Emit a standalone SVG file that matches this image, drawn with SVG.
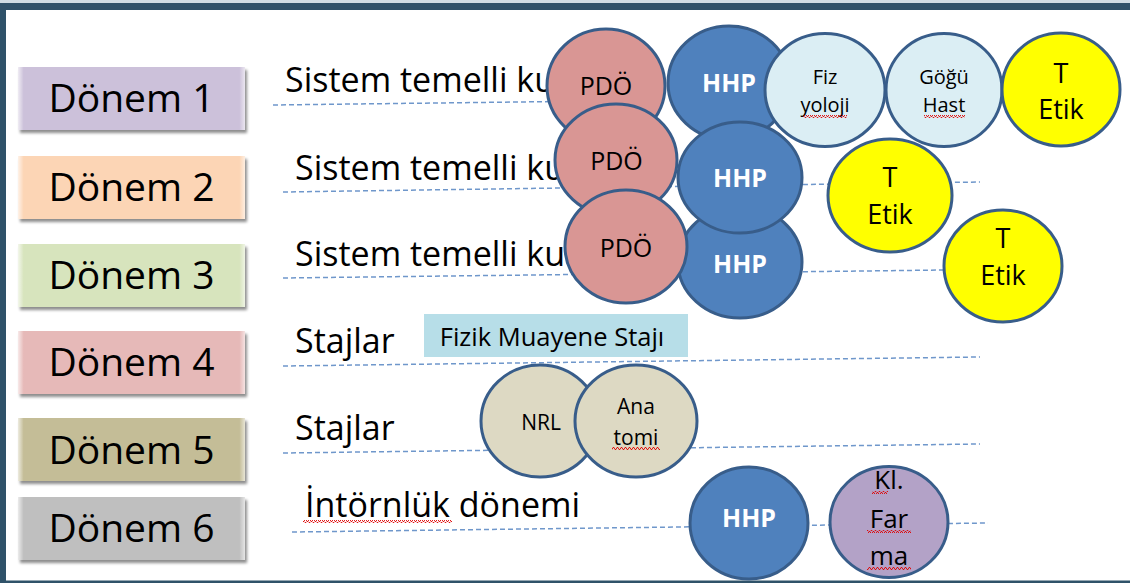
<svg xmlns="http://www.w3.org/2000/svg" width="1130" height="583" viewBox="0 0 1130 583">
<defs>
<filter id="sh" x="-5%" y="-10%" width="115%" height="130%">
<feGaussianBlur in="SourceAlpha" stdDeviation="1.5"/>
<feOffset dx="2" dy="2.5" result="b"/>
<feComponentTransfer><feFuncA type="linear" slope="0.45"/></feComponentTransfer>
<feMerge><feMergeNode/><feMergeNode in="SourceGraphic"/></feMerge>
</filter>
<linearGradient id="bev" x1="0" y1="0" x2="1" y2="0">
<stop offset="0" stop-color="#fff" stop-opacity="0.7"/>
<stop offset="0.025" stop-color="#fff" stop-opacity="0"/>
<stop offset="0.975" stop-color="#fff" stop-opacity="0"/>
<stop offset="1" stop-color="#fff" stop-opacity="0.6"/>
</linearGradient>
<pattern id="wavy" width="4" height="3" patternUnits="userSpaceOnUse">
<path d="M0 2.5 L1 0.5 L2 0.5 L3 2.5 L4 2.5" stroke="#e00000" stroke-width="0.9" fill="none"/>
</pattern>
<style>
.box text{font-family:"Open Sans","Liberation Sans",sans-serif;font-size:39px;fill:#000;text-anchor:middle}
.lbl{font-family:"Open Sans","Liberation Sans",sans-serif;font-size:34px;fill:#000}
.c{stroke:#385D8A;stroke-width:3}
.ct{font-family:"Open Sans","Liberation Sans",sans-serif;fill:#000;text-anchor:middle}
.hhp{font-family:"Open Sans","Liberation Sans",sans-serif;font-weight:bold;font-size:25px;fill:#fff;text-anchor:middle}
.pdo{fill:#D99694}.blue{fill:#4F81BD}.lb{fill:#DBEEF4}.yel{fill:#FFFF00}.tan{fill:#DDD9C3}.pur{fill:#B3A2C7}
.dash{stroke:#6F97CB;stroke-width:1.5;stroke-dasharray:5 3;fill:none}
</style>
</defs>
<rect width="1130" height="583" fill="#fff"/>
<!-- frame -->
<rect x="0" y="0" width="1130" height="3" fill="#D0DDE4"/>
<rect x="0" y="3" width="1130" height="7" fill="#2F5269"/>
<rect x="0" y="3" width="6" height="580" fill="#2F5269"/>
<rect x="0" y="580.5" width="1130" height="2.5" fill="#2F5269"/>

<!-- period boxes -->
<g id="donem1" class="box"><rect x="18" y="67" width="227" height="63" fill="#CCC1DA" filter="url(#sh)"/><rect x="18" y="67" width="227" height="63" fill="url(#bev)"/><text x="131.5" y="112">Dönem 1</text></g>
<g id="donem2" class="box"><rect x="18" y="156" width="227" height="63" fill="#FCD5B5" filter="url(#sh)"/><rect x="18" y="156" width="227" height="63" fill="url(#bev)"/><text x="131.5" y="201">Dönem 2</text></g>
<g id="donem3" class="box"><rect x="18" y="244" width="227" height="63" fill="#D7E4BD" filter="url(#sh)"/><rect x="18" y="244" width="227" height="63" fill="url(#bev)"/><text x="131.5" y="289">Dönem 3</text></g>
<g id="donem4" class="box"><rect x="18" y="331" width="227" height="63" fill="#E6B9B8" filter="url(#sh)"/><rect x="18" y="331" width="227" height="63" fill="url(#bev)"/><text x="131.5" y="376">Dönem 4</text></g>
<g id="donem5" class="box"><rect x="18" y="418" width="227" height="63" fill="#C4BD97" filter="url(#sh)"/><rect x="18" y="418" width="227" height="63" fill="url(#bev)"/><text x="131.5" y="464">Dönem 5</text></g>
<g id="donem6" class="box"><rect x="18" y="497" width="227" height="63" fill="#BFBFBF" filter="url(#sh)"/><rect x="18" y="497" width="227" height="63" fill="url(#bev)"/><text x="131.5" y="542">Dönem 6</text></g>

<!-- connectors: dashed row lines -->
<g id="connectors">
<line class="dash" x1="273" y1="105" x2="600" y2="101"/>
<line class="dash" x1="283" y1="192" x2="980" y2="182"/>
<line class="dash" x1="283" y1="278" x2="945" y2="270"/>
<line class="dash" x1="283" y1="366" x2="980" y2="357"/>
<line class="dash" x1="283" y1="453" x2="980" y2="444"/>
<line class="dash" x1="292" y1="532" x2="988" y2="523"/>
</g>

<!-- row labels -->
<g id="row-labels">
<text class="lbl" x="285" y="92">Sistem temelli ku</text>
<text class="lbl" x="295" y="180">Sistem temelli ku</text>
<text class="lbl" x="295" y="266">Sistem temelli ku</text>
<text class="lbl" x="295" y="353">Stajlar</text>
<text class="lbl" x="295" y="440">Stajlar</text>
<text class="lbl" x="305" y="517">İntörnlük dönemi</text>
<rect x="303" y="520" width="149" height="3" fill="url(#wavy)"/>
</g>

<!-- row 1 -->
<g id="pdo1"><ellipse class="c pdo" cx="606" cy="86" rx="59" ry="57"/><text class="ct" x="606" y="95" font-size="25">PDÖ</text></g>
<g id="hhp1"><ellipse class="c blue" cx="729" cy="83" rx="61" ry="57"/><text class="hhp" x="729" y="92">HHP</text></g>
<g id="fizyoloji"><ellipse class="c lb" cx="825" cy="90" rx="60" ry="56.5"/><text class="ct" x="825" y="84" font-size="20">Fiz</text><text class="ct" x="825" y="112" font-size="20">yoloji</text><rect x="803" y="115" width="44" height="3" fill="url(#wavy)"/></g>
<g id="gogu"><ellipse class="c lb" cx="944" cy="90" rx="58" ry="56.5"/><text class="ct" x="944" y="84" font-size="20">Göğü</text><text class="ct" x="944" y="112" font-size="20">Hast</text><rect x="924" y="115" width="41" height="3" fill="url(#wavy)"/></g>
<g id="etik1"><ellipse class="c yel" cx="1061" cy="89.5" rx="59" ry="56.5"/><text class="ct" x="1061" y="83" font-size="27">T</text><text class="ct" x="1061" y="119" font-size="27">Etik</text></g>

<!-- row 3 HHP (below row 2 HHP) -->
<g id="hhp3"><ellipse class="c blue" cx="740" cy="262" rx="62" ry="56"/><text class="hhp" x="740" y="273">HHP</text></g>
<!-- row 2 -->
<g id="pdo2"><ellipse class="c pdo" cx="616" cy="160" rx="61" ry="56"/><text class="ct" x="616.5" y="170" font-size="25">PDÖ</text></g>
<g id="hhp2"><ellipse class="c blue" cx="740" cy="177.5" rx="62" ry="55.5"/><text class="hhp" x="740" y="187">HHP</text></g>
<g id="etik2"><ellipse class="c yel" cx="890" cy="195.5" rx="62" ry="56.5"/><text class="ct" x="890" y="187" font-size="27">T</text><text class="ct" x="890" y="224" font-size="27">Etik</text></g>
<!-- row 3 -->
<g id="pdo3"><ellipse class="c pdo" cx="626" cy="246.5" rx="61" ry="56.5"/><text class="ct" x="626" y="256.5" font-size="25">PDÖ</text></g>
<g id="etik3"><ellipse class="c yel" cx="1003" cy="266" rx="59" ry="56"/><text class="ct" x="1003" y="248" font-size="27">T</text><text class="ct" x="1003" y="285" font-size="27">Etik</text></g>

<!-- row 4 -->
<g id="fizik-muayene"><rect x="424" y="314" width="264" height="43" fill="#B7DEE8"/><text class="ct" x="552" y="346" font-size="25.5">Fizik Muayene Stajı</text></g>

<!-- row 5 -->
<g id="nrl"><ellipse class="c tan" cx="540" cy="421" rx="59" ry="56"/><text class="ct" x="541" y="430" font-size="21">NRL</text></g>
<g id="anatomi"><ellipse class="c tan" cx="636" cy="421" rx="61" ry="56"/><text class="ct" x="636" y="414" font-size="21">Ana</text><text class="ct" x="636" y="445" font-size="21">tomi</text><rect x="612" y="447" width="48" height="3" fill="url(#wavy)"/></g>

<!-- row 6 -->
<g id="hhp6"><ellipse class="c blue" cx="749" cy="523" rx="59" ry="56"/><text class="hhp" x="749" y="527">HHP</text></g>
<g id="klfarma"><ellipse class="c pur" cx="889" cy="522" rx="59" ry="55.5"/><text class="ct" x="889" y="489" font-size="26">Kl.</text><text class="ct" x="889" y="528" font-size="26">Far</text><text class="ct" x="889" y="565" font-size="26">ma</text><rect x="872" y="491" width="16" height="3" fill="url(#wavy)"/><rect x="867" y="530" width="44" height="3" fill="url(#wavy)"/><rect x="867" y="567" width="44" height="3" fill="url(#wavy)"/></g>
</svg>
